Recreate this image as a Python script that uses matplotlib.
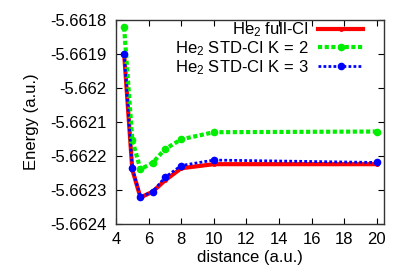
import matplotlib
matplotlib.use("Agg")
import matplotlib.pyplot as plt
from matplotlib.ticker import FuncFormatter

plt.rcParams['font.family'] = ['Liberation Sans', 'DejaVu Sans']
plt.rcParams['mathtext.fontset'] = 'custom'
plt.rcParams['mathtext.rm'] = 'Liberation Sans'
plt.rcParams['mathtext.it'] = 'Liberation Sans'

# distancias (a.u.)
dist = [4.5, 5.0, 5.5, 6.25, 7.0, 8.0, 10.0, 20.0]

# energias (a.u.)
full_ci = [-5.66190, -5.662240, -5.662322, -5.662305, -5.662272, -5.662236, -5.662224, -5.662224]
std_k2 = [-5.661822, -5.662153, -5.662239, -5.662220, -5.662180, -5.662151, -5.662130, -5.662128]
std_k3 = [-5.66190, -5.662236, -5.662320, -5.662305, -5.662263, -5.662228, -5.662212, -5.662219]

etiquetas = ["He$_2$ full-CI", "He$_2$ STD-CI K = 2", "He$_2$ STD-CI K = 3"]

fig = plt.figure(figsize=(4.15, 2.77), dpi=100)
ax = fig.add_axes([0.2795, 0.1913, 0.6455, 0.7365])

ax.plot(dist, full_ci, color='#ff0000', lw=3, marker='o', ms=2.5, label=etiquetas[0])
ax.plot(dist, std_k2, color='#00ee00', lw=3, ls=(0, (1, 0.6)), marker='o', ms=4.5, label=etiquetas[1])
ax.plot(dist, std_k3, color='#0000ff', lw=2, ls=(0, (1, 0.8)), marker='o', ms=4.5, label=etiquetas[2])

ax.set_xlim(4, 20.43)
ax.set_ylim(-5.6624, -5.6618)
ax.set_xticks(range(4, 21, 2))
ax.set_yticks([-5.6624, -5.6623, -5.6622, -5.6621, -5.6620, -5.6619, -5.6618])
ax.yaxis.set_major_formatter(FuncFormatter(lambda v, p: '%g' % round(v, 4)))

ax.tick_params(direction='in', top=True, right=True, length=4, width=0.8, labelsize=12)
ax.tick_params(axis='x', pad=6)
ax.tick_params(axis='y', pad=7)
for s in ax.spines.values():
    s.set_color('#333333')
    s.set_linewidth(1)

ax.set_xlabel("distance (a.u.)", fontsize=12, labelpad=2)
ax.set_ylabel("Energy (a.u.)", fontsize=12, labelpad=8)

ax.legend(loc='upper right', frameon=False, markerfirst=False, fontsize=12,
          handlelength=2.7, handletextpad=0.6, labelspacing=0.0,
          borderaxespad=0.0, bbox_to_anchor=(0.948, 1.03))

fig.savefig("out.png", dpi=100)
